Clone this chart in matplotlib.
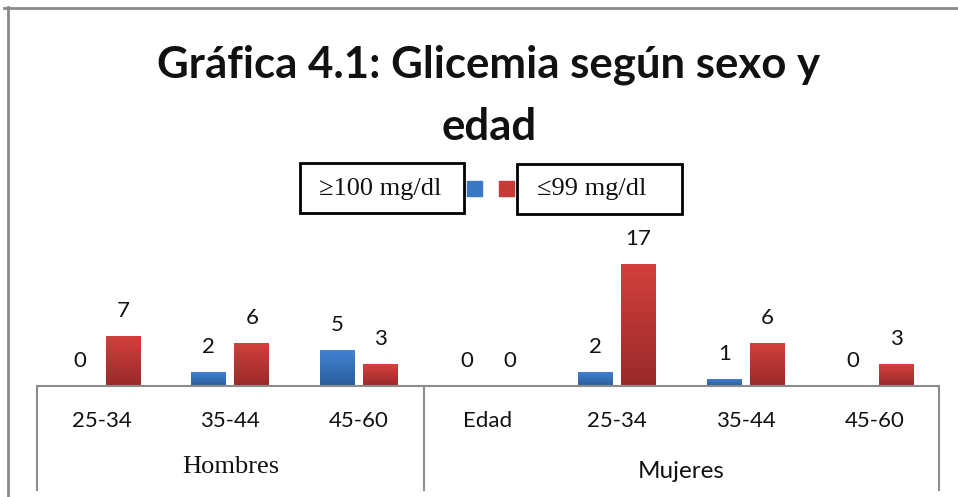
#!/usr/bin/env python3

import numpy as np
import matplotlib
matplotlib.use('Agg')
import matplotlib.pyplot as plt
from matplotlib.colors import LinearSegmentedColormap
from matplotlib.patches import Rectangle
from matplotlib.lines import Line2D
import matplotlib.transforms as mtransforms

#%% data
groups = ['Hombres', 'Mujeres']
group_sizes = [3, 4]
categories = ['25-34', '35-44', '45-60', 'Edad', '25-34', '35-44', '45-60']
alto = [0, 2, 5, 0, 2, 1, 0]      # >=100 mg/dl
normal = [7, 6, 3, 0, 17, 6, 3]   # <=99 mg/dl
series_names = ['\u2265100 mg/dl', '\u226499 mg/dl']

SANS = ['Lato', 'DejaVu Sans']
SERIF = ['Liberation Serif', 'DejaVu Serif']

W, H = 958, 497


def fx(x):
    return x / W


def fy(y):
    return 1 - y / H


def gradient_bars(ax, bars, top, bottom):
    cmap = LinearSegmentedColormap.from_list('g', [bottom, top])
    grad = np.linspace(0, 1, 64).reshape(-1, 1)
    for b in bars:
        x, y = b.get_x(), b.get_y()
        w, h = b.get_width(), b.get_height()
        if h <= 0:
            continue
        b.set_facecolor('none')
        b.set_edgecolor('none')
        im = ax.imshow(grad, cmap=cmap, aspect='auto', origin='lower',
                       extent=[x, x + w, y, y + h], zorder=2)
        im.set_clip_path(b)


#%%
def main():
    fig = plt.figure(figsize=(W / 100, H / 100), dpi=100)

    # axes: baseline at y=386 px, x from 37 to 939 px
    ax = fig.add_axes([fx(37), fy(386), fx(939) - fx(37), fy(230) - fy(386)])
    n = len(categories)
    x = np.arange(n) + 0.5
    off = 0.167
    bw = 0.27
    b1 = ax.bar(x - off, alto, bw, color='#3b78c4')
    b2 = ax.bar(x + off, normal, bw, color='#c63a37')
    ax.set_xlim(0, n)
    ax.set_ylim(0, (386 - 230) / 7.18)
    ax.axis('off')
    gradient_bars(ax, b1, '#4282d2', '#2c5d9c')
    gradient_bars(ax, b2, '#d3403d', '#992a2a')

    for xs, vals in ((x - off, alto), (x + off, normal)):
        for xi, v in zip(xs, vals):
            ax.annotate(str(v), (xi, v), xytext=(0, 18), textcoords='offset points',
                        ha='center', va='center', fontsize=16, family=SANS,
                        color='#111111')

    # category axis
    trans = mtransforms.blended_transform_factory(ax.transData, fig.transFigure)
    grey = '#8c8c8c'
    fig.add_artist(Line2D([fx(37), fx(939)], [fy(386), fy(386)], color=grey, lw=1.5))
    bounds = np.concatenate([[0], np.cumsum(group_sizes)])
    for bnd in bounds:
        ax.add_line(Line2D([bnd, bnd], [fy(386), fy(490)], transform=trans,
                           color=grey, lw=1.5, clip_on=False))
    for xi, lab in zip(x, categories):
        ax.text(xi, fy(421), lab, transform=trans, ha='center', va='center',
                fontsize=16, family=SANS, color='#111111')
    group_fonts = [SERIF, SANS]
    group_sizes_pt = [19, 17.5]
    group_y = [467, 472]
    for i, g in enumerate(groups):
        xc = (bounds[i] + bounds[i + 1]) / 2
        ax.text(xc, fy(group_y[i]), g, transform=trans, ha='center', va='center',
                fontsize=group_sizes_pt[i], family=group_fonts[i], color='#111111')

    # outer frame (top and left visible)
    fig.add_artist(Line2D([fx(4), fx(958)], [fy(7.5), fy(7.5)], color='#8a8a8a', lw=2))
    fig.add_artist(Line2D([fx(8), fx(8)], [fy(7), fy(497)], color='#8a8a8a', lw=2))

    # title
    fig.text(fx(489), fy(96), 'Gráfica 4.1: Glicemia según sexo y\nedad',
             ha='center', va='center', fontsize=31.5, fontweight='bold',
             family=SANS, linespacing=1.68, color='#111111')

    # legend
    fig.add_artist(Rectangle((fx(300), fy(213)), fx(464) - fx(300), fy(163) - fy(213),
                             fill=False, ec='black', lw=2))
    fig.add_artist(Rectangle((fx(517), fy(214)), fx(682) - fx(517), fy(164) - fy(214),
                             fill=False, ec='black', lw=2))
    fig.add_artist(Rectangle((fx(467), fy(196)), fx(15), 15 / H, color='#3b78c4'))
    fig.add_artist(Rectangle((fx(499), fy(196)), fx(15), 15 / H, color='#c63a37'))
    fig.text(fx(319), fy(189), series_names[0], ha='left', va='center',
             fontsize=19, family=SERIF, color='#111111')
    fig.text(fx(537), fy(189), series_names[1], ha='left', va='center',
             fontsize=19, family=SERIF, color='#111111')

    fig.savefig('out.png', dpi=100)


if __name__ == "__main__":
    main()
